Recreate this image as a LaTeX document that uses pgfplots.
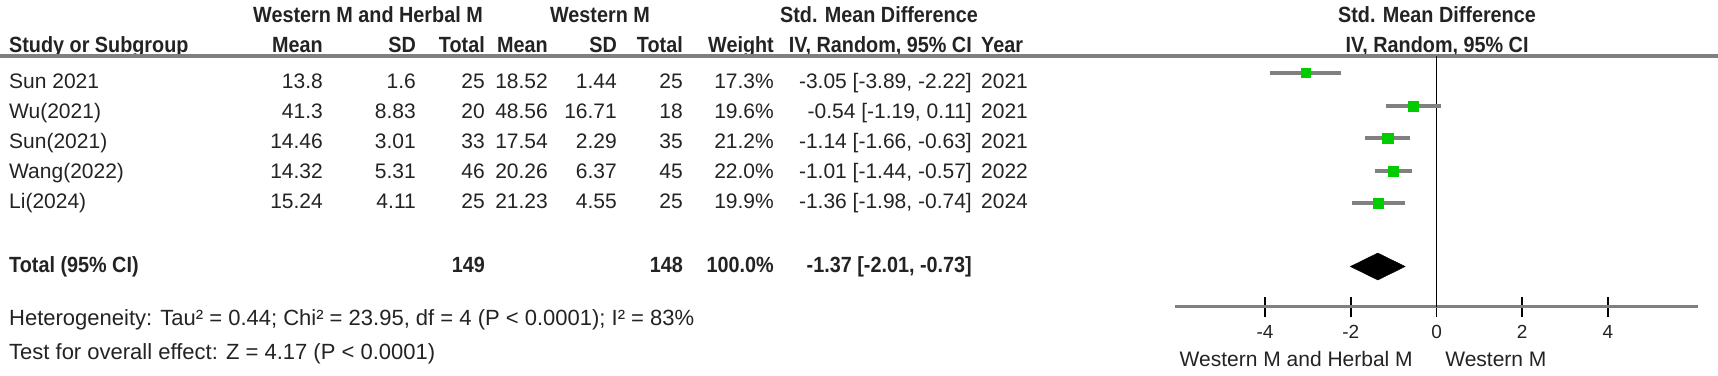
\documentclass[border=0pt]{standalone}
\usepackage{pgfplots}
\pgfplotsset{compat=1.18}
\usepackage{fontspec}
\setmainfont{Liberation Sans}[BoldFeatures={FakeStretch=0.9}]
\definecolor{lineGray}{RGB}{128,128,128}
\definecolor{boxGreen}{RGB}{0,204,0}
\definecolor{txt}{RGB}{35,35,35}
\newcommand\fs{\fontsize{22bp}{26bp}\selectfont}
\newcommand\fsr{\fontsize{21bp}{25bp}\selectfont}
\begin{document}
\begin{tikzpicture}[x=1bp,y=1bp,
  t/.style={inner sep=0pt, text height=15.75bp, text depth=0pt, font=\fs, text=txt},
  tr/.style={t, font=\fsr, text height=15bp},
  tb/.style={t, font=\fs\bfseries}]
\useasboundingbox (0,0) rectangle (1718,-375);
% ---- header ----
\node[tb] at (368,-15) {Western M and Herbal M};
\node[tb] at (600,-15) {Western M};
\node[tb,anchor=east] at (978,-15) {Std. Mean Difference};
\node[tb] at (1437,-15) {Std. Mean Difference};
\node[tb,anchor=west] at (9,-45) {Study or Subgroup};
\node[tb,anchor=east] at (323,-45) {Mean};
\node[tb,anchor=east] at (416,-45) {SD};
\node[tb,anchor=east] at (485,-45) {Total};
\node[tb,anchor=east] at (548,-45) {Mean};
\node[tb,anchor=east] at (617,-45) {SD};
\node[tb,anchor=east] at (683,-45) {Total};
\node[tb,anchor=east] at (774,-45) {Weight};
\node[tb,anchor=east] at (972,-45) {IV, Random, 95\% CI};
\node[tb,anchor=west] at (981,-45) {Year};
\node[tb] at (1437,-45) {IV, Random, 95\% CI};
\draw[lineGray, line width=3.3bp] (0,-56) -- (1718,-56);
% ---- study rows ----
\foreach \y/\name/\ma/\sa/\na/\mb/\sb/\nb/\w/\ci/\yr in {
  81/Sun 2021/13.8/1.6/25/18.52/1.44/25/17.3/{-3.05 [-3.89, -2.22]}/2021,
  110.5/Wu(2021)/41.3/8.83/20/48.56/16.71/18/19.6/{-0.54 [-1.19, 0.11]}/2021,
  140.5/Sun(2021)/14.46/3.01/33/17.54/2.29/35/21.2/{-1.14 [-1.66, -0.63]}/2021,
  171/Wang(2022)/14.32/5.31/46/20.26/6.37/45/22.0/{-1.01 [-1.44, -0.57]}/2022,
  201/Li(2024)/15.24/4.11/25/21.23/4.55/25/19.9/{-1.36 [-1.98, -0.74]}/2024}{
  \node[tr,anchor=west] at (9,-\y) {\name};
  \node[tr,anchor=east] at (323,-\y) {\ma};
  \node[tr,anchor=east] at (416,-\y) {\sa};
  \node[tr,anchor=east] at (485,-\y) {\na};
  \node[tr,anchor=east] at (548,-\y) {\mb};
  \node[tr,anchor=east] at (617,-\y) {\sb};
  \node[tr,anchor=east] at (683,-\y) {\nb};
  \node[tr,anchor=east] at (774,-\y) {\w\%};
  \node[tr,anchor=east] at (972,-\y) {\ci};
  \node[tr,anchor=west] at (981,-\y) {\yr};
}
% ---- total row ----
\node[tb,anchor=west] at (9,-265) {Total (95\% CI)};
\node[tb,anchor=east] at (485,-265) {149};
\node[tb,anchor=east] at (683,-265) {148};
\node[tb,anchor=east] at (774,-265) {100.0\%};
\node[tb,anchor=east] at (972,-265) {-1.37 [-2.01, -0.73]};
\node[t,anchor=west] at (9,-318) {Heterogeneity: Tau² = 0.44; Chi² = 23.95, df = 4 (P < 0.0001); I² = 83\%};
\node[t,anchor=west] at (9,-352) {Test for overall effect: Z = 4.17 (P < 0.0001)};
% ---- forest plot ----
\begin{axis}[
  at={(1175bp,-306.7bp)}, anchor=south west, scale only axis,
  width=523bp, height=250.7bp,
  xmin=-6.1, xmax=6.1, ymin=-306.7, ymax=-56,
  axis x line*=bottom, axis y line=none,
  x axis line style={lineGray, line width=3.3bp, -},
  xtick={-4,-2,0,2,4}, xticklabels={-4,-2,0,2,4},
  ytick=\empty,
  major tick length=20bp, tick align=center,
  every tick/.style={black, line width=1.6bp},
  xticklabel style={font=\fontsize{19bp}{22bp}\selectfont, text=txt,
    text height=13.6bp, text depth=0pt, inner sep=0pt, anchor=center, yshift=-15.3bp},
  clip=false,
]
\addplot[black, line width=1.2bp] coordinates {(0,-56) (0,-306.7)};
% confidence intervals
\addplot[lineGray, line width=3.3bp] coordinates {(-3.89,-73) (-2.22,-73)};
\addplot[lineGray, line width=3.3bp] coordinates {(-1.19,-106) (0.11,-106)};
\addplot[lineGray, line width=3.3bp] coordinates {(-1.66,-138) (-0.63,-138)};
\addplot[lineGray, line width=3.3bp] coordinates {(-1.44,-171) (-0.57,-171)};
\addplot[lineGray, line width=3.3bp] coordinates {(-1.98,-203) (-0.74,-203)};
% point estimates (box size ~ weight)
\addplot[only marks, mark=square*, mark size=4.5bp, boxGreen] coordinates {(-3.05,-73)};
\addplot[only marks, mark=square*, mark size=5.0bp, boxGreen] coordinates {(-0.54,-106)};
\addplot[only marks, mark=square*, mark size=5.2bp, boxGreen] coordinates {(-1.14,-138)};
\addplot[only marks, mark=square*, mark size=5.3bp, boxGreen] coordinates {(-1.01,-171)};
\addplot[only marks, mark=square*, mark size=5.0bp, boxGreen] coordinates {(-1.36,-203)};
% pooled diamond
\addplot[fill=black, draw=black] coordinates {(-2.01,-266.5) (-1.37,-253) (-0.73,-266.5) (-1.37,-280)} -- cycle;
\node[tr,anchor=east] at (axis cs:-0.55,-358.5) {Western M and Herbal M};
\node[tr,anchor=west] at (axis cs:0.2,-358.5) {Western M};
\end{axis}
\end{tikzpicture}
\end{document}
